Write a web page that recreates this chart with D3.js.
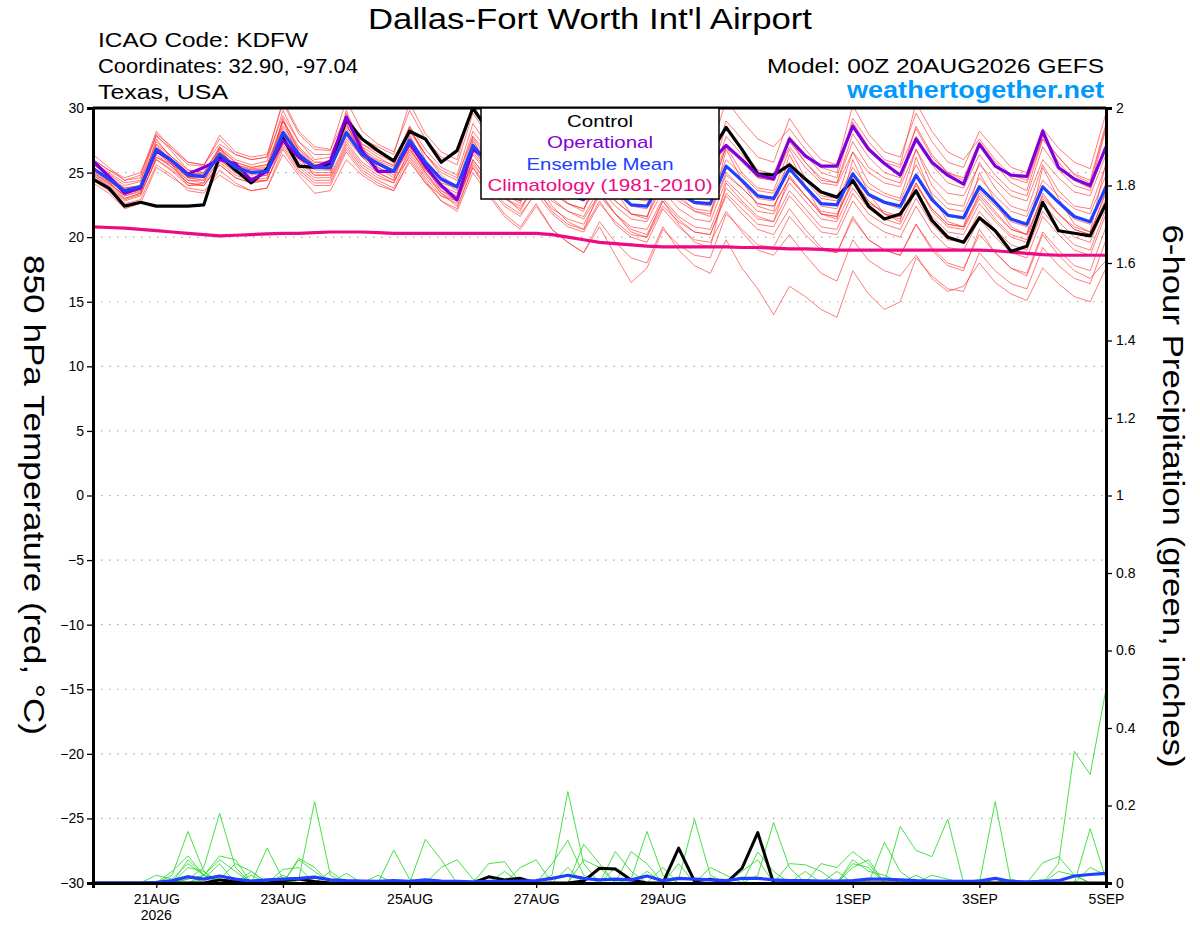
<!DOCTYPE html>
<html>
<head>
<meta charset="utf-8">
<script src="https://cdn.jsdelivr.net/npm/d3@7"></script>
<style>
  body { margin: 0; background: #fff; }
  svg { display: block; font-family: "Liberation Sans", Arial, sans-serif; }
</style>
</head>
<body>
<svg id="chart" width="1200" height="927"></svg>
<script>
// 6-hourly steps from 00Z 20AUG2026 to 00Z 5SEP2026 (65 points)
const start = Date.UTC(2026, 7, 20, 0);

const tickDays = [Date.UTC(2026,7,21), Date.UTC(2026,7,23), Date.UTC(2026,7,25), Date.UTC(2026,7,27),
                  Date.UTC(2026,7,29), Date.UTC(2026,8,1), Date.UTC(2026,8,3), Date.UTC(2026,8,5)];
const tickNames = ["21AUG", "23AUG", "25AUG", "27AUG", "29AUG", "1SEP", "3SEP", "5SEP"];
const tempTicks = [-30,-25,-20,-15,-10,-5,0,5,10,15,20,25,30];
const precTicks = [0,0.2,0.4,0.6,0.8,1,1.2,1.4,1.6,1.8,2];
const precNames = ["0","0.2","0.4","0.6","0.8","1","1.2","1.4","1.6","1.8","2"];

// 850 hPa temperature (C)
const control = [24.5,23.8,22.4,22.7, 22.4,22.4,22.4,22.5, 26.3,25.2,24.2,25.3, 27.7,25.5,25.4,25.7,
  29.1,27.6,26.7,25.9, 28.2,27.6,25.8,26.7, 30.0,28.2,26.8,25.9, 28.6,27.0,26.2,25.7,
  28.4,26.8,25.6,25.3, 28.0,26.5,25.5,26.5, 28.5,26.8,24.9,24.8, 25.6,24.5,23.5,23.1,
  24.4,22.4,21.4,21.8, 23.6,21.3,20.0,19.6, 21.5,20.5,18.9,19.3, 22.7,20.5,20.3,20.1, 22.6];
const operational = [25.9,24.7,23.4,23.8, 26.7,25.9,24.9,25.4, 26.0,25.7,24.4,25.1, 27.5,26.2,25.4,25.9,
  29.3,26.7,25.1,25.1, 27.3,25.5,24.0,22.9, 26.8,26.0,25.0,24.5, 27.0,25.8,24.8,24.6,
  27.2,25.9,24.9,24.6, 27.4,26.2,25.3,25.8, 27.1,26.0,24.8,24.5, 27.6,26.3,25.5,25.5,
  28.6,26.8,25.7,24.8, 27.6,25.8,24.8,24.1, 27.2,25.5,24.8,24.7, 28.2,25.4,24.5,24.0, 27.0];
const ensMean = [25.3,24.5,23.6,23.9, 26.8,25.9,24.8,24.7, 26.4,25.4,25.0,25.1, 28.1,26.4,25.4,25.4,
  28.1,26.4,25.7,25.1, 27.5,25.8,24.5,23.9, 27.1,25.6,24.3,23.4, 25.5,24.0,23.3,22.9,
  24.9,23.6,22.5,22.4, 24.6,23.4,22.7,22.6, 25.5,24.4,23.2,23.0, 25.3,23.9,22.6,22.5,
  24.9,23.3,22.7,22.4, 24.8,22.9,21.7,21.5, 23.9,22.7,21.4,21.0, 23.9,22.7,21.6,21.2, 23.9];
const climo = [20.8,20.75,20.7,20.6, 20.5,20.4,20.3,20.2, 20.1,20.15,20.2,20.25, 20.3,20.3,20.35,20.4,
  20.4,20.4,20.35,20.3, 20.3,20.3,20.3,20.3, 20.3,20.3,20.3,20.3, 20.3,20.2,20.0,19.8,
  19.6,19.5,19.4,19.3, 19.25,19.25,19.25,19.25, 19.25,19.2,19.2,19.15, 19.1,19.1,19.05,19.0,
  19.0,19.0,19.0,19.0, 19.0,19.0,19.0,19.0, 19.0,18.95,18.85,18.75, 18.65,18.6,18.6,18.6, 18.6];

const members = [
  [26.0,25.2,24.4,24.8, 28.2,26.8,25.6,25.5, 27.9,26.6,26.2,26.4, 30.4,28.0,26.8,26.7, 30.6,28.2,27.2,26.6, 29.8,27.6,26.2,25.6, 29.6,27.8,26.5,25.8, 28.4,26.8,25.8,25.4, 28.0,26.2,25.0,24.8, 27.9,26.4,25.4,25.2, 29.0,27.6,26.2,25.8, 29.2,27.4,26.0,25.6, 30.2,28.0,26.6,26.2, 29.6,27.4,25.8,25.4, 28.2,26.8,25.4,25.0, 28.4,26.9,25.8,25.3, 29.6],
  [25.6,24.9,24.0,24.3, 27.9,26.6,25.2,25.0, 27.0,26.0,25.6,25.9, 29.8,27.4,26.0,26.2, 29.4,27.2,26.6,25.8, 28.6,26.8,25.4,24.8, 28.8,27.0,25.6,24.9, 27.6,26.0,25.2,24.6, 27.2,25.6,24.4,24.2, 26.9,25.6,24.8,24.6, 28.6,26.8,25.2,24.9, 27.8,26.4,25.0,24.6, 28.9,27.0,25.8,25.4, 28.4,26.2,25.0,24.6, 27.4,25.8,24.6,24.2, 27.6,26.2,24.9,24.4, 28.8],
  [25.4,24.6,23.8,24.0, 27.4,26.2,25.0,24.9, 26.9,25.8,25.4,25.6, 29.0,27.0,25.8,25.8, 29.6,27.0,26.2,25.5, 28.4,26.4,25.0,24.4, 28.2,26.6,25.2,24.4, 26.8,25.4,24.6,24.2, 26.6,25.0,24.0,23.8, 26.2,24.8,24.2,24.0, 27.2,26.0,24.6,24.4, 27.0,25.4,24.2,24.0, 26.6,25.0,24.2,23.9, 26.8,24.6,23.4,23.2, 25.6,24.4,23.2,22.8, 26.0,24.6,23.5,23.2, 26.4],
  [25.2,24.4,23.4,23.8, 27.6,26.0,24.6,24.4, 26.8,25.2,24.8,25.0, 29.2,26.6,25.2,25.2, 28.8,26.4,25.6,25.0, 28.6,26.0,24.6,24.0, 27.8,25.8,24.6,23.8, 27.0,24.8,24.0,23.6, 26.4,24.4,23.2,23.2, 26.0,24.2,23.4,23.4, 27.0,25.0,23.8,23.6, 26.8,24.6,23.2,23.0, 26.6,24.2,23.4,23.0, 26.8,24.0,22.6,22.4, 25.8,23.8,22.4,22.0, 25.6,23.6,22.4,22.2, 25.6],
  [25.0,24.2,23.2,23.6, 26.6,25.6,24.6,24.6, 26.2,25.4,25.2,25.3, 28.4,26.6,25.6,25.6, 28.0,26.6,25.9,25.4, 27.8,25.8,24.4,23.8, 27.4,25.8,24.4,23.6, 26.2,24.6,23.8,23.4, 25.6,24.0,23.0,22.8, 25.2,24.0,23.2,23.0, 26.0,24.8,23.6,23.4, 25.8,24.4,23.0,22.8, 25.4,23.8,23.2,22.8, 25.6,23.4,22.2,22.0, 24.6,23.2,22.0,21.6, 24.4,23.2,22.2,21.8, 24.8],
  [25.3,24.4,23.4,23.7, 26.2,25.6,24.8,24.6, 26.6,25.6,25.0,25.0, 27.6,26.2,25.4,25.2, 28.4,26.6,25.6,25.0, 27.0,25.6,24.4,23.6, 26.8,25.2,24.0,23.2, 25.4,24.0,23.2,22.8, 25.0,23.6,22.4,22.2, 24.8,23.4,22.6,22.4, 25.6,24.2,23.0,22.8, 25.2,23.8,22.4,22.2, 25.0,23.2,22.6,22.2, 24.6,22.8,21.6,21.4, 23.6,22.4,21.2,20.8, 24.0,22.6,21.4,21.0, 24.2],
  [25.1,24.3,23.5,23.8, 26.4,25.4,24.4,24.4, 26.0,25.0,24.6,24.8, 27.8,26.0,25.0,25.0, 29.8,27.0,25.4,24.6, 27.2,25.2,23.8,23.2, 26.4,24.8,23.4,22.8, 24.8,23.4,22.6,22.2, 24.4,22.8,21.8,21.6, 24.0,22.8,22.0,21.8, 24.8,23.8,22.6,22.4, 24.6,23.2,22.0,21.8, 24.2,22.6,22.0,21.6, 24.0,22.2,21.0,20.8, 23.2,21.8,20.6,20.2, 23.0,21.8,20.8,20.4, 23.4],
  [24.8,24.0,23.0,23.4, 26.0,25.2,24.2,24.0, 25.8,24.8,24.4,24.4, 27.4,25.6,24.6,24.6, 27.2,25.6,24.8,24.2, 26.6,24.8,23.4,22.8, 26.0,24.4,23.0,22.2, 24.2,22.8,22.0,21.6, 23.8,22.4,21.4,21.2, 23.6,22.2,21.4,21.2, 24.4,23.2,22.0,21.8, 24.2,22.8,21.4,21.2, 23.8,22.2,21.4,21.0, 23.6,21.6,20.4,20.2, 22.6,21.2,20.0,19.6, 22.6,21.2,20.0,19.6, 22.8],
  [24.4,23.6,22.6,22.9, 25.6,24.8,23.6,23.4, 25.2,24.2,23.6,23.8, 26.8,25.0,24.0,24.0, 26.6,25.0,24.2,23.6, 26.0,24.2,22.8,22.2, 25.4,23.8,22.4,21.6, 23.6,22.2,21.4,21.0, 23.2,21.8,20.8,20.6, 23.0,21.6,20.8,20.6, 23.8,22.6,21.4,21.2, 23.6,22.2,20.8,20.6, 23.4,21.8,21.0,20.6, 23.0,21.0,19.8,19.6, 22.0,20.6,19.4,19.0, 22.0,20.6,19.4,19.0, 22.2],
  [25.6,24.8,23.8,24.0, 27.0,26.0,25.0,24.8, 26.4,25.6,25.2,25.2, 28.0,26.4,25.6,25.4, 27.8,26.2,25.4,24.8, 26.8,25.0,23.6,22.8, 25.8,24.0,22.6,21.8, 23.4,21.8,20.8,20.4, 22.6,21.2,20.2,20.0, 22.4,21.2,20.4,20.2, 23.4,22.2,21.0,20.8, 23.2,21.8,20.4,20.2, 22.8,21.2,20.4,20.0, 22.4,20.4,19.2,19.0, 21.4,20.0,18.8,18.4, 21.6,20.2,19.0,18.6, 21.8],
  [25.8,25.0,24.2,24.4, 27.2,26.2,25.2,25.0, 26.8,25.8,25.4,25.6, 28.6,26.8,25.8,25.8, 28.2,26.6,25.8,25.0, 27.0,25.0,23.4,22.4, 25.4,23.4,21.8,20.8, 22.6,20.6,19.6,18.8, 20.8,18.6,16.5,17.6, 20.6,19.4,18.6,18.4, 21.8,20.6,19.4,19.2, 21.6,20.2,19.0,18.8, 21.4,19.8,19.0,18.6, 21.0,19.2,18.0,17.6, 20.2,18.8,17.6,17.2, 20.4,19.0,17.8,17.4, 20.8],
  [25.0,24.2,23.2,23.5, 26.6,25.6,24.4,24.2, 26.0,25.0,24.6,24.8, 27.6,25.8,24.8,24.8, 27.4,25.8,25.0,24.4, 26.2,24.4,22.8,22.0, 25.0,23.2,21.6,20.6, 22.4,20.6,19.6,18.8, 21.2,19.6,18.4,18.0, 20.8,19.0,17.8,17.2, 19.8,17.6,16.0,14.0, 16.2,15.4,14.4,13.8, 17.4,15.6,14.4,15.0, 18.4,17.0,16.0,15.8, 18.8,17.4,16.4,16.0, 19.2,17.8,16.8,16.4, 19.8],
  [24.6,23.8,22.8,23.2, 26.2,25.4,24.2,24.0, 25.6,24.6,24.2,24.4, 27.0,25.2,24.2,24.2, 26.8,25.2,24.4,23.8, 26.4,24.6,23.2,22.6, 26.0,24.4,23.0,22.4, 23.8,22.0,21.0,20.6, 22.8,21.0,20.0,19.6, 22.2,20.8,19.8,19.6, 22.0,20.4,19.0,18.6, 20.2,18.6,17.2,16.6, 19.8,18.2,17.4,17.0, 18.6,16.8,15.8,16.2, 18.0,16.5,15.6,15.1, 17.6,16.4,15.4,15.0, 17.6],
  [25.4,24.6,23.6,23.8, 26.8,25.8,24.6,24.6, 26.6,25.6,25.0,25.2, 28.2,26.4,25.4,25.4, 27.6,26.2,25.6,25.0, 27.0,25.6,24.0,23.4, 26.6,25.0,23.6,22.8, 24.6,23.0,22.0,21.4, 23.4,21.8,20.6,20.2, 22.8,21.4,20.4,20.2, 23.2,21.8,20.6,20.2, 22.2,20.6,19.2,18.8, 21.6,19.8,19.0,18.6, 21.0,19.0,17.8,17.4, 20.6,18.8,17.6,17.0, 20.2,18.6,17.4,16.8, 18.2],
  [24.9,24.1,23.3,23.7, 26.9,25.7,24.7,24.8, 26.5,25.6,25.3,25.4, 29.0,26.8,25.6,25.8, 28.6,26.8,26.0,25.6, 28.2,26.4,25.2,24.6, 27.8,26.4,25.0,24.2, 27.2,25.6,24.6,24.2, 26.4,24.8,23.8,23.8, 26.8,25.2,24.4,24.2, 27.8,26.4,25.0,24.6, 27.6,25.8,24.4,24.2, 27.4,25.4,24.6,24.2, 27.8,25.6,24.2,23.8, 26.4,24.8,23.6,23.2, 27.0,25.2,24.0,23.6, 27.2],
  [26.4,25.4,24.4,24.6, 28.0,27.0,25.8,25.6, 27.2,26.4,26.0,26.2, 30.6,28.2,27.0,26.8, 29.4,27.6,27.0,26.4, 30.4,28.0,26.6,26.0, 30.2,28.2,26.8,26.0, 28.8,27.2,26.4,26.0, 28.6,27.0,25.8,25.4, 29.4,28.0,27.0,26.6, 30.6,29.0,27.6,27.0, 28.4,26.8,25.4,25.0, 29.2,27.4,26.0,25.6, 30.4,28.2,26.6,26.0, 27.6,26.0,24.8,24.4, 27.8,26.2,24.8,24.2, 28.6],
  [25.5,24.3,23.0,23.4, 27.2,25.6,24.0,24.2, 27.0,25.2,24.4,24.6, 29.0,26.2,24.8,24.8, 28.8,26.2,25.0,24.4, 28.0,25.4,23.6,23.0, 27.6,25.2,23.4,22.6, 26.6,24.2,22.6,22.0, 26.0,23.6,21.8,21.4, 25.8,23.4,22.0,21.6, 26.8,24.4,22.4,22.0, 26.4,24.0,21.8,21.4, 26.0,23.4,21.8,21.2, 26.2,23.2,21.2,20.8, 25.0,22.8,20.8,20.2, 25.4,23.0,21.0,20.4, 25.8],
  [24.2,23.4,22.2,22.6, 25.4,24.6,23.8,23.6, 24.8,24.0,23.6,23.8, 26.4,24.8,23.4,23.6, 26.0,24.8,24.0,23.6, 25.8,24.2,23.2,22.8, 25.6,24.2,23.2,22.8, 24.8,23.4,22.6,22.2, 24.2,22.8,21.8,21.6, 24.4,23.0,22.2,22.0, 25.0,23.8,22.6,22.4, 24.6,23.2,21.8,21.6, 24.4,22.8,21.8,21.6, 24.2,22.2,21.0,20.8, 23.4,22.0,20.6,20.2, 23.2,21.8,20.6,20.2, 23.0],
  [26.0,25.2,24.6,25.0, 27.8,26.8,25.8,25.6, 27.6,26.4,26.0,26.2, 29.4,27.4,26.4,26.4, 29.0,27.2,26.4,25.8, 28.4,26.4,24.8,23.8, 27.0,25.0,23.2,22.0, 24.4,22.4,21.2,20.6, 23.6,21.8,20.4,20.0, 22.8,21.0,19.6,19.2, 24.2,22.8,21.6,21.2, 24.8,23.2,21.8,21.6, 24.6,22.8,21.8,21.4, 24.2,22.0,20.8,20.6, 23.0,21.4,20.2,19.8, 23.4,21.8,20.6,20.2, 23.6],
  [24.8,23.9,22.9,23.3, 26.0,25.1,24.0,24.0, 25.6,24.6,24.2,24.4, 27.2,25.4,24.4,24.4, 27.0,25.4,24.6,24.2, 26.8,25.2,24.2,23.8, 27.0,25.6,24.4,23.8, 26.0,24.6,23.8,23.4, 25.8,24.4,23.4,23.2, 25.6,24.4,23.6,23.4, 27.0,25.8,24.6,24.4, 27.4,25.8,24.6,24.2, 28.0,26.2,25.0,24.6, 28.6,26.4,25.0,24.4, 27.2,25.6,24.2,23.6, 27.6,25.8,24.4,23.8, 28.4]
];

// 6-hour precipitation (inches)
const precControl = [0,0,0,0, 0,0,0,0, 0.008,0.004,0,0, 0.006,0.01,0.004,0, 0,0,0,0, 0,0,0,0,
  0,0.016,0.008,0.012, 0,0,0,0.005, 0.038,0.036,0.008,0, 0,0.09,0.005,0.01, 0,0.038,0.13,0,
  0,0,0,0, 0,0,0,0, 0,0,0,0, 0,0,0,0, 0,0,0,0, 0];
const precMean = [0,0,0,0, 0.002,0.006,0.016,0.01, 0.018,0.01,0.005,0.008, 0.01,0.012,0.015,0.008,
  0.006,0.005,0.004,0.006, 0.004,0.008,0.005,0.004, 0.003,0.004,0.004,0.005, 0.006,0.012,0.02,0.012,
  0.008,0.01,0.008,0.018, 0.006,0.012,0.01,0.008, 0.006,0.012,0.012,0.008, 0.006,0.006,0.005,0.005,
  0.006,0.01,0.01,0.008, 0.006,0.005,0.004,0.004, 0.005,0.012,0.004,0.003, 0.004,0.006,0.018,0.022, 0.025];
const precMembers = [
  [0,0,0,0, 0,0.02,0.133,0.03, 0,0,0,0, 0,0.01,0.21,0.02, 0,0,0,0, 0,0,0,0, 0,0,0,0, 0,0,0,0, 0,0,0,0, 0,0.01,0.165,0.02, 0,0,0,0, 0,0,0,0, 0,0,0,0, 0,0,0,0, 0,0.21,0,0, 0,0.05,0.34,0.28, 0.5],
  [0,0,0,0, 0,0,0.01,0.04, 0.18,0.04,0,0, 0,0,0,0, 0,0,0,0, 0,0.113,0.06,0, 0,0,0,0, 0,0,0,0, 0,0,0.01,0.133, 0.02,0,0,0, 0,0,0,0, 0,0,0,0, 0,0,0,0.146, 0.084,0.068,0.165,0, 0,0,0,0, 0,0,0,0, 0],
  [0,0,0,0, 0,0.03,0.07,0.02, 0,0,0,0.09, 0.01,0,0,0, 0,0,0,0, 0,0,0,0, 0,0,0,0, 0,0.02,0.236,0.05, 0,0,0,0, 0,0,0,0, 0,0,0.02,0.156, 0.04,0,0,0, 0,0,0,0, 0,0,0,0, 0,0,0,0, 0,0,0,0.14, 0.01],
  [0,0,0,0, 0,0,0.06,0.02, 0.06,0.03,0,0, 0,0.064,0.04,0, 0,0,0,0.085, 0.01,0,0,0, 0,0,0,0, 0,0,0,0.1, 0.05,0,0,0, 0,0,0,0, 0,0,0.08,0.03, 0,0,0,0, 0,0,0.105,0.03, 0,0,0,0, 0,0,0,0, 0.052,0.068,0.02,0, 0],
  [0,0,0,0, 0.02,0.01,0.05,0.02, 0.07,0.06,0,0, 0.035,0.04,0,0, 0,0,0,0, 0,0,0.04,0.06, 0.01,0,0,0.04, 0.06,0,0,0, 0,0.081,0.03,0, 0,0,0,0, 0,0,0,0, 0,0,0.05,0.04, 0.081,0.05,0,0, 0,0,0,0, 0,0,0,0, 0,0,0,0, 0],
  [0,0,0,0, 0,0,0.01,0.02, 0.01,0.05,0.03,0, 0,0.06,0.03,0, 0,0,0,0, 0,0,0,0, 0,0.05,0.055,0, 0,0,0,0, 0,0,0.081,0.05, 0,0,0,0.04, 0.02,0,0,0, 0.05,0.047,0.03,0, 0,0,0,0, 0,0.02,0.01,0, 0,0,0,0, 0,0,0,0, 0],
  [0,0,0,0, 0,0,0.04,0.03, 0,0,0,0, 0,0,0,0, 0.025,0,0,0, 0,0,0,0, 0,0,0,0, 0,0.05,0.11,0.02, 0,0,0,0, 0.04,0,0,0, 0,0.03,0.06,0, 0,0,0,0, 0.05,0.04,0,0, 0,0,0,0, 0,0,0.01,0, 0,0,0,0.04, 0.02],
  [0,0,0,0, 0,0,0,0.01, 0.05,0,0.02,0, 0,0,0,0.03, 0,0,0,0, 0,0,0,0, 0,0,0.03,0, 0,0,0,0.06, 0.04,0,0,0, 0,0.05,0,0, 0,0,0,0, 0,0.03,0,0, 0.06,0.03,0.02,0, 0,0,0,0, 0.01,0,0,0, 0,0.03,0.02,0, 0],
  [0,0,0,0, 0,0,0.02,0, 0,0,0,0, 0.02,0,0,0, 0,0,0,0, 0,0,0,0, 0,0,0,0, 0,0,0.04,0, 0,0,0,0.03, 0,0,0,0, 0,0,0,0, 0,0,0,0, 0.04,0.06,0,0, 0,0,0,0, 0,0,0,0, 0,0,0,0, 0],
  [0,0,0,0, 0,0,0,0.02, 0,0,0.03,0, 0,0,0,0, 0,0,0.02,0, 0,0,0,0, 0,0,0,0, 0,0,0,0, 0,0.04,0,0, 0,0,0,0, 0,0,0,0, 0,0,0,0.03, 0,0,0,0, 0.02,0,0,0, 0,0,0,0, 0.01,0,0,0, 0]
];

const svg = d3.select("#chart");
const pL = 93, pR = 1106, pT = 108, pB = 883;

const x = d3.scaleUtc().domain([start, Date.UTC(2026, 8, 5)]).range([pL, pR]);
const yT = d3.scaleLinear().domain([-30, 30]).range([pB, pT]);
const yP = d3.scaleLinear().domain([0, 2]).range([pB, pT]);
const timeAt = (i) => start + i * 6 * 3600 * 1000;

svg.append("defs").append("clipPath").attr("id", "plot")
	.append("rect").attr("x", pL).attr("y", pT).attr("width", pR - pL).attr("height", pB - pT);

// dotted grid on temperature ticks
svg.append("g").selectAll("line")
	.data(tempTicks.filter(t => t > -30 && t < 30))
	.enter().append("line")
		.attr("x1", pL).attr("x2", pR)
		.attr("y1", d => yT(d)).attr("y2", d => yT(d))
		.attr("stroke", "#aaa").attr("stroke-width", 1.2)
		.attr("stroke-dasharray", "1.5,6.5");

const plot = svg.append("g").attr("clip-path", "url(#plot)");

const lineT = d3.line().x((d, i) => x(timeAt(i))).y(d => yT(d));
const lineP = d3.line().x((d, i) => x(timeAt(i))).y(d => yP(d));

// precipitation
plot.append("g").selectAll("path")
	.data(precMembers)
	.enter().append("path")
		.attr("d", lineP)
		.attr("fill", "none").attr("stroke", "#33dd33").attr("stroke-width", 0.9);
plot.append("path").attr("d", lineP(precControl))
	.attr("fill", "none").attr("stroke", "#000").attr("stroke-width", 3).attr("stroke-linejoin", "round");
plot.append("path").attr("d", lineP(precMean))
	.attr("fill", "none").attr("stroke", "#2040ff").attr("stroke-width", 3.2).attr("stroke-linejoin", "round");

// temperature ensemble members
plot.append("g").selectAll("path")
	.data(members)
	.enter().append("path")
		.attr("d", lineT)
		.attr("fill", "none").attr("stroke", "#ff3030").attr("stroke-opacity", 0.7).attr("stroke-width", 0.9);

const bold = [
	{data: climo, color: "#ee0a84"},
	{data: control, color: "#000000"},
	{data: operational, color: "#8000dd"},
	{data: ensMean, color: "#2040ff"}
];
plot.append("g").selectAll("path")
	.data(bold)
	.enter().append("path")
		.attr("d", d => lineT(d.data))
		.attr("fill", "none").attr("stroke", d => d.color)
		.attr("stroke-width", 3.2).attr("stroke-linejoin", "round");

// axes
const axL = svg.append("g").attr("transform", `translate(${pL},0)`)
	.call(d3.axisLeft(yT).tickValues(tempTicks).tickSize(6).tickPadding(3));
const axR = svg.append("g").attr("transform", `translate(${pR},0)`)
	.call(d3.axisRight(yP).tickValues(precTicks).tickSize(6).tickPadding(4)
		.tickFormat((d, i) => precNames[i]));
const axB = svg.append("g").attr("transform", `translate(0,${pB})`)
	.call(d3.axisBottom(x).tickValues(tickDays).tickSize(5).tickPadding(6)
		.tickFormat((d, i) => tickNames[i]));
svg.append("line").attr("x1", pL).attr("x2", pR).attr("y1", pT).attr("y2", pT)
	.attr("stroke", "#000").attr("stroke-width", 3);

[axL, axR, axB].forEach(a => {
	a.select(".domain").attr("stroke-width", 3);
	a.selectAll(".tick line").attr("stroke-width", 1.3);
	a.selectAll("text").attr("font-size", 14).attr("font-family", "Liberation Sans, Arial, sans-serif").attr("fill", "#000");
});
axB.append("text").attr("x", x(tickDays[0])).attr("y", 37)
	.attr("text-anchor", "middle").attr("font-size", 14).attr("fill", "#000").text("2026");

// wide-set text, the way the original renders it
const label = (g, px, py, size, len, str) => g.append("text")
	.attr("x", px).attr("y", py).attr("font-size", size)
	.attr("textLength", len).attr("lengthAdjust", "spacingAndGlyphs").text(str);

// legend box
const lg = svg.append("g").attr("text-anchor", "middle");
lg.append("rect").attr("x", 481).attr("y", 108).attr("width", 238).attr("height", 91)
	.attr("fill", "#fff").attr("stroke", "#000").attr("stroke-width", 1.5);
const legendNames = ["Control", "Operational", "Ensemble Mean", "Climatology (1981-2010)"];
const legendColors = ["#000000", "#8000dd", "#2040ff", "#ee0a84"];
const legendWidths = [66, 106, 147, 225];
legendNames.forEach((n, i) => label(lg, 600, 127 + i * 21.3, 17, legendWidths[i], n).attr("fill", legendColors[i]));

// header
const hd = svg.append("g");
label(hd, 368, 29, 30, 444, "Dallas-Fort Worth Int'l Airport");
label(hd, 98, 47, 21, 210, "ICAO Code: KDFW");
label(hd, 98, 73, 21, 260, "Coordinates: 32.90, -97.04");
label(hd, 98, 99, 21, 130, "Texas, USA");
label(hd, 767, 73, 21, 337, "Model: 00Z 20AUG2026 GEFS");
label(hd, 847, 98, 23, 257, "weathertogether.net").attr("font-weight", "bold").attr("fill", "#0099ff");

// axis titles
const at = svg.append("g").attr("text-anchor", "middle");
label(at.append("g").attr("transform", "translate(24,495) rotate(90)"), 0, 0, 29, 480,
	"850 hPa Temperature (red, \u00B0C)");
label(at.append("g").attr("transform", "translate(1163,496) rotate(90)"), 0, 0, 29, 543,
	"6-hour Precipitation (green, inches)");
</script>
</body>
</html>
